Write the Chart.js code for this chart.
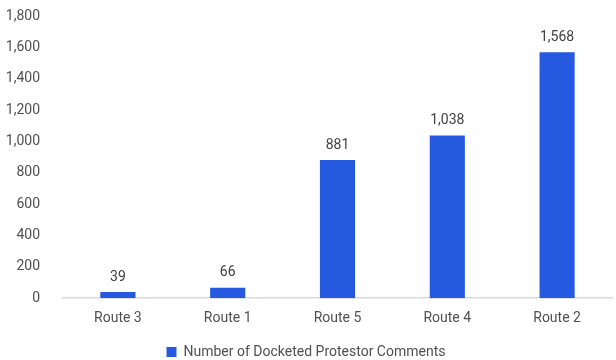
<!DOCTYPE html>
<html>
<head>
<meta charset="utf-8">
<script src="https://cdn.jsdelivr.net/npm/chart.js@4.4.0/dist/chart.umd.min.js"></script>
<style>
  html, body { margin: 0; padding: 0; background: #fff; }
  #wrap { width: 616px; height: 360px; }
</style>
</head>
<body>
<div id="wrap"><canvas id="myChart"></canvas></div>
<script>
const routes = ['Route 3', 'Route 1', 'Route 5', 'Route 4', 'Route 2'];
const comments = [39, 66, 881, 1038, 1568];
const yTicks = [0, 200, 400, 600, 800, 1000, 1200, 1400, 1600, 1800];

const FONT = "'Roboto', sans-serif";
const barBlue = '#2559e0';

// numbers over each bar
const valueLabels = {
    id: 'valueLabels',
    afterDatasetsDraw(chart) {
        const ctx = chart.ctx;
        const meta = chart.getDatasetMeta(0);
        ctx.save();
        ctx.font = '14px ' + FONT;
        ctx.fillStyle = '#404040';
        ctx.textAlign = 'center';
        ctx.textBaseline = 'bottom';
        meta.data.forEach((bar, i) => {
            ctx.fillText(comments[i].toLocaleString('en-US'), bar.x, bar.y - 8);
        });
        ctx.restore();
    }
};

new Chart(document.getElementById('myChart'), {
    type: 'bar',
    data: {
        labels: routes,
        datasets: [{
            label: 'Number of Docketed Protestor Comments',
            data: comments,
            backgroundColor: barBlue,
            barPercentage: 0.32,
            categoryPercentage: 1
        }]
    },
    options: {
        responsive: true,
        maintainAspectRatio: false,
        animation: false,
        layout: { padding: { top: 0, right: 4, left: 0, bottom: -9 } },
        plugins: {
            legend: {
                position: 'bottom',
                labels: {
                    boxWidth: 10,
                    boxHeight: 10,
                    padding: 6,
                    color: '#505050',
                    font: { family: FONT, size: 14 }
                }
            },
            tooltip: { enabled: false }
        },
        scales: {
            x: {
                grid: { display: false },
                border: { color: '#d9d9d9', width: 1.5 },
                ticks: { color: '#505050', padding: 4, font: { family: FONT, size: 14 } },
                afterFit(scale) { scale.height += 8; }
            },
            y: {
                min: 0,
                max: 1800,
                afterBuildTicks(scale) {
                    scale.ticks = yTicks.map(v => ({ value: v }));
                },
                afterFit(scale) {
                    scale.width = 63;
                    scale.paddingTop = 16;
                },
                grid: { display: false },
                border: { display: false },
                ticks: {
                    color: '#505050',
                    padding: 15,
                    font: { family: FONT, size: 14 },
                    callback: v => v.toLocaleString('en-US')
                }
            }
        }
    },
    plugins: [valueLabels]
});
</script>
</body>
</html>
